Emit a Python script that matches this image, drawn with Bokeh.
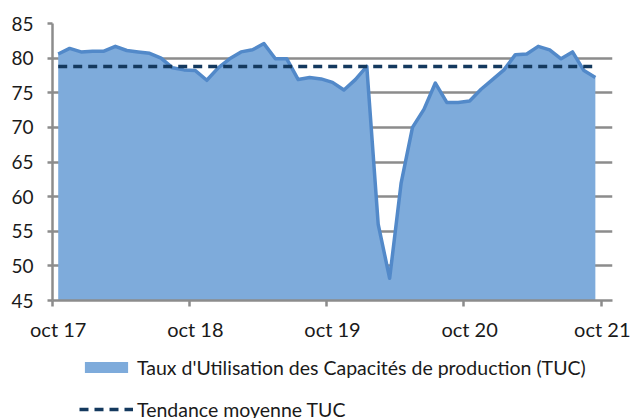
from bokeh.plotting import figure
from bokeh.layouts import column
from bokeh.models import Range1d, FixedTicker, LinearAxis, Legend, LegendItem, ColumnDataSource
from bokeh.embed import file_html
from bokeh.resources import INLINE

# Monthly TUC values, oct 17 .. sep 21 (48 months)
tuc = [80.6, 81.4, 80.9, 81.0, 81.0, 81.7, 81.1, 80.9, 80.7, 80.0, 78.6, 78.3,
       78.2, 76.8, 78.6, 79.9, 80.9, 81.2, 82.1, 79.9, 79.9, 76.9, 77.2, 77.0,
       76.5, 75.4, 76.9, 78.8, 56.0, 48.2, 61.9, 70.0, 72.6, 76.4, 73.6, 73.6,
       73.8, 75.5, 76.9, 78.3, 80.5, 80.6, 81.7, 81.2, 79.9, 80.9, 78.2, 77.2]
trend_value = 78.8
n_categories = 49  # oct 17 .. oct 21
tick_index = [0, 12, 24, 36, 48]
tick_labels = ["oct 17", "oct 18", "oct 19", "oct 20", "oct 21"]
y_ticks = [45, 50, 55, 60, 65, 70, 75, 80, 85]
legend_labels = ["Taux d'Utilisation des Capacités de production (TUC)", "Tendance moyenne TUC"]

FONT = "Lato"
TXT = "#1a1a1a"
GRID = "#8c8c8c"
AREA_FILL = "#7eabdb"
AREA_LINE = "#5289c9"
TREND = "#14395e"

n = len(tuc)
xs = [i + 0.5 for i in range(n)]
src = ColumnDataSource(dict(x=xs, y=tuc, base=[0] * n, trend=[trend_value] * n))

p = figure(frame_width=560, frame_height=277,
           x_range=Range1d(0, n_categories), y_range=Range1d(45, 85),
           output_backend="svg", toolbar_location=None,
           min_border_left=52, min_border_right=18, min_border_top=23, min_border_bottom=50,
           x_axis_type=None)
p.outline_line_color = None

p.varea(x="x", y1="base", y2="y", source=src, fill_color=AREA_FILL)
p.line(x="x", y="y", source=src, line_color=AREA_LINE, line_width=3.5, line_join="round")
p.line(x="x", y="trend", source=src, line_color=TREND, line_width=3.5, line_dash="9 6")

# y axis
ya = p.yaxis[0]
ya.ticker = FixedTicker(ticks=y_ticks)
ya.axis_line_color = GRID
ya.axis_line_width = 2.5
ya.major_tick_line_color = GRID
ya.major_tick_line_width = 2.5
ya.major_tick_out = 5
ya.major_tick_in = 0
ya.minor_tick_line_color = None
ya.major_label_standoff = 14
ya.major_label_text_font = FONT
ya.major_label_text_font_size = "19px"
ya.major_label_text_color = TXT

p.ygrid.ticker = FixedTicker(ticks=y_ticks)
p.ygrid.grid_line_color = GRID
p.ygrid.grid_line_width = 2.5
p.xgrid.visible = False

# x axis: tick marks between categories, no labels
ax1 = LinearAxis(ticker=FixedTicker(ticks=tick_index),
                 major_label_overrides={t: "" for t in tick_index},
                 axis_line_color=GRID, axis_line_width=2.5,
                 major_tick_line_color=GRID, major_tick_line_width=2.5,
                 major_tick_out=6, major_tick_in=0, minor_tick_line_color=None,
                 major_label_standoff=0, major_label_text_font_size="10px")
p.add_layout(ax1, "below")
# labels centred on categories
label_pos = [t + 0.5 for t in tick_index]
ax2 = LinearAxis(ticker=FixedTicker(ticks=label_pos),
                 major_label_overrides={pos: lab for pos, lab in zip(label_pos, tick_labels)},
                 axis_line_color=None, major_tick_line_color=None, minor_tick_line_color=None,
                 major_tick_out=0, major_tick_in=0, major_label_standoff=10,
                 major_label_text_font=FONT, major_label_text_font_size="20px",
                 major_label_text_color=TXT)
p.add_layout(ax2, "below")

# legend strip underneath (proxy renderers share the data but sit outside its ranges)
lf = figure(width=630, height=68, x_range=Range1d(-3, -2), y_range=Range1d(-3, -2),
            output_backend="svg", toolbar_location=None,
            x_axis_location=None, y_axis_location=None,
            min_border_left=52, min_border_right=18, min_border_top=0, min_border_bottom=0)
lf.outline_line_color = None
lf.grid.visible = False
r_area = lf.varea(x="x", y1="base", y2="y", source=src, fill_color=AREA_FILL)
r_trend = lf.line(x="x", y="trend", source=src, line_color=TREND, line_width=3.5, line_dash="9 6")

legend = Legend(items=[
    LegendItem(label=legend_labels[0], renderers=[r_area]),
    LegendItem(label=legend_labels[1], renderers=[r_trend]),
], location=(27, -3), orientation="vertical",
    border_line_color=None, background_fill_alpha=0, padding=0, margin=0,
    spacing=18, glyph_width=54, glyph_height=14, label_standoff=4,
    label_text_font=FONT, label_text_font_size="19.5px", label_text_color=TXT,
    label_height=24)
lf.add_layout(legend)

layout = column(p, lf, spacing=0)
open("out.html", "w").write(file_html(layout, INLINE))
